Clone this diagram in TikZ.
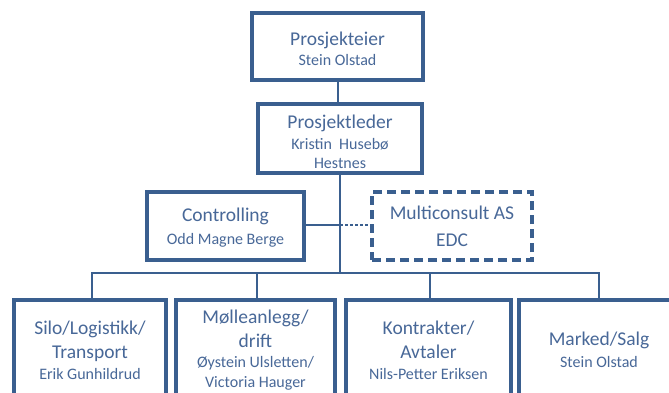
\documentclass[tikz,border=0pt]{standalone}
\usepackage{fontspec}
\setmainfont{Carlito}
\definecolor{bord}{RGB}{58,95,143}
\definecolor{txt}{RGB}{72,104,152}
\newcommand{\ttl}[1]{\fontsize{19.5}{20}\selectfont #1}
\newcommand{\sbt}[1]{\fontsize{16}{20}\selectfont #1}
\begin{document}
\begin{tikzpicture}[x=1pt,y=-1pt,
  lbl/.style={text=txt,align=center,inner sep=0pt,font=\fontsize{16}{20}\selectfont},
  box/.style={lbl,draw=bord,line width=3.5pt,fill=white},
  dbox/.style={box,dash pattern=on 9pt off 5pt},
  conn/.style={draw=bord,line width=1.6pt},
  dconn/.style={draw=bord,line width=1.6pt,dash pattern=on 3pt off 2pt}]
\useasboundingbox (0,0) rectangle (669,392);
\clip (0,0) rectangle (669,392);
\fill[white] (0,0) rectangle (669,392);
% top nodes
\node[box,minimum width=171pt,minimum height=67pt] (eier) at (337.5,46.5) {};
\node[lbl] (eiertxt) at (337.5,49)
  {\ttl{Prosjekteier}\\\sbt{Stein Olstad}};
\node[box,minimum width=164pt,minimum height=69pt] (leder) at (340,138.5) {};
\node[lbl] (ledertxt) at (340,141.5)
  {\ttl{Prosjektleder}\\[1pt]\sbt{Kristin\ \ Husebø}\\[-1pt]\sbt{Hestnes}};
\node[box,minimum width=157pt,minimum height=68pt] (ctrl) at (225.5,226) {};
\node[lbl] (ctrltxt) at (225.5,228)
  {\ttl{Controlling}\\[3pt]\sbt{Odd Magne Berge}};
\node[dbox,minimum width=160pt,minimum height=68pt] (multi) at (452,226)
  {\ttl{Multiconsult AS}\\[7pt]\ttl{EDC}};
% bottom nodes
\node[box,minimum width=152pt,minimum height=100pt] (silo) at (90,350)
  {\ttl{Silo/Logistikk/}\\[4pt]\ttl{Transport}\\[1pt]\sbt{Erik Gunhildrud}};
\node[box,minimum width=159pt,minimum height=100pt] (molle) at (255.5,350)
  {\ttl{Mølleanlegg/}\\[4pt]\ttl{drift}\\\sbt{Øystein Ulsletten/}\\\sbt{Victoria Hauger}};
\node[box,minimum width=165pt,minimum height=100pt] (kontr) at (428.5,350)
  {\ttl{Kontrakter/}\\[4pt]\ttl{Avtaler}\\[1pt]\sbt{Nils-Petter Eriksen}};
\node[box,minimum width=160pt,minimum height=100pt] (mark) at (599,350)
  {\ttl{Marked/Salg}\\[2pt]\sbt{Stein Olstad}};
% connectors
\coordinate (top) at (338,80);
\coordinate (stem) at (340,225);
\coordinate (bus) at (340,273);
\draw[conn] (eier.south -| top) -- (top |- leder.north);
\draw[conn] (leder.south -| bus) -- (bus);
\draw[conn] (stem -| ctrl.east) -- (stem);
\draw[dconn] (stem) -- (stem -| multi.west);
\draw[conn] (silo.north -| 92,0) -- (92,273) -- (599,273) -- (mark.north);
\draw[conn] (257,273) -- (molle.north -| 257,0);
\draw[conn] (430,273) -- (kontr.north -| 430,0);
\end{tikzpicture}
\end{document}
